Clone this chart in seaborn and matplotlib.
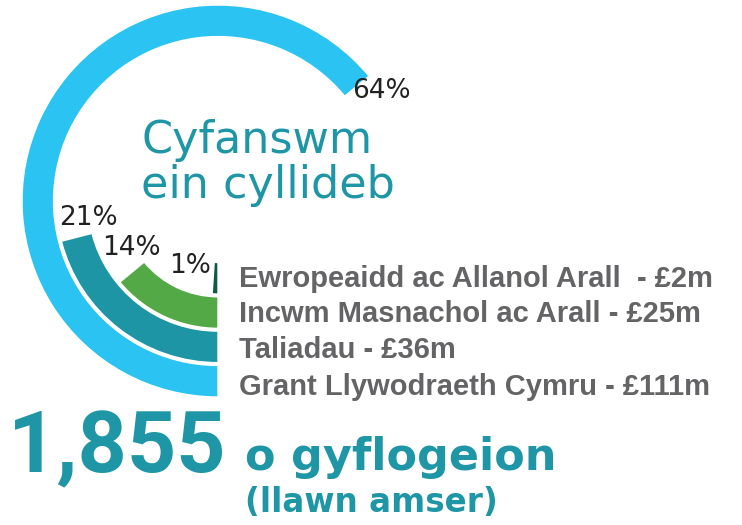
import numpy as np
import pandas as pd
import seaborn as sns
import matplotlib.pyplot as plt

# budget share by source (inner ring to outer ring)
sources = ["Ewropeaidd ac Allanol Arall", "Incwm Masnachol ac Arall",
           "Taliadau", "Grant Llywodraeth Cymru"]
amounts = ["£2m", "£25m", "£36m", "£111m"]
shares = [1, 14, 21, 64]
ring_colors = ["#0c5c44", "#52a945", "#1e95a5", "#2bc3f2"]

teal = "#1e96a6"
grey = "#646466"

df = pd.DataFrame({"source": sources, "share": shares})
df["theta"] = df["share"] / 100 * 2 * np.pi

sns.set_theme(style="white")
plt.rcParams["font.family"] = ["DejaVu Sans"]

W, H = 742, 525
fig = plt.figure(figsize=(W / 100, H / 100), dpi=100)

# polar axes centred on the rings, radius 196 px
cx, cy, R = 218, 201, 196
ax = fig.add_axes([(cx - R) / W, (H - cy - R) / H, 2 * R / W, 2 * R / H],
                  projection="polar")
sns.barplot(data=df, x="theta", y="source", hue="source", palette=ring_colors,
            orient="h", width=0.92, saturation=1, legend=False, ax=ax,
            edgecolor="white", linewidth=1)
ax.set_theta_zero_location("S")
ax.set_theta_direction(-1)
ax.set_ylim(-2.25, 3.46)
ax.set_axis_off()
for p in ax.patches:
    p.set_clip_on(False)

def px(x, y):
    return x / W, 1 - y / H

# percentage labels
pct_pos = [(190, 266), (131, 248), (88, 218), (381, 91)]
for s, (x, y) in zip(shares, pct_pos):
    fig.text(*px(x, y), f"{s}%", fontsize=19, color="#222222",
             ha="center", va="center")

# centre title
fig.text(*px(141, 153), "Cyfanswm", fontsize=32, color=teal, va="baseline")
fig.text(*px(141, 198), "ein cyllideb", fontsize=32, color=teal, va="baseline")

# legend lines
leg_base = [287, 322, 358, 395]
for i, (s, a) in enumerate(zip(sources, amounts)):
    sep = "  - " if i == 0 else " - "
    fig.text(*px(239, leg_base[i]), s + sep + a, fontsize=21,
             color=grey, fontweight="bold", family="Liberation Sans",
             va="baseline")

# staff count
fig.text(*px(8, 472), "1,855", fontsize=62, color=teal, fontweight="bold",
         family="Roboto", va="baseline")
fig.text(*px(245, 470), "o gyflogeion", fontsize=32, color=teal,
         fontweight="bold", va="baseline")
fig.text(*px(245, 512), "(llawn amser)", fontsize=23.5, color=teal,
         fontweight="bold", va="baseline")

fig.savefig("out.png", dpi=100, facecolor="white")
